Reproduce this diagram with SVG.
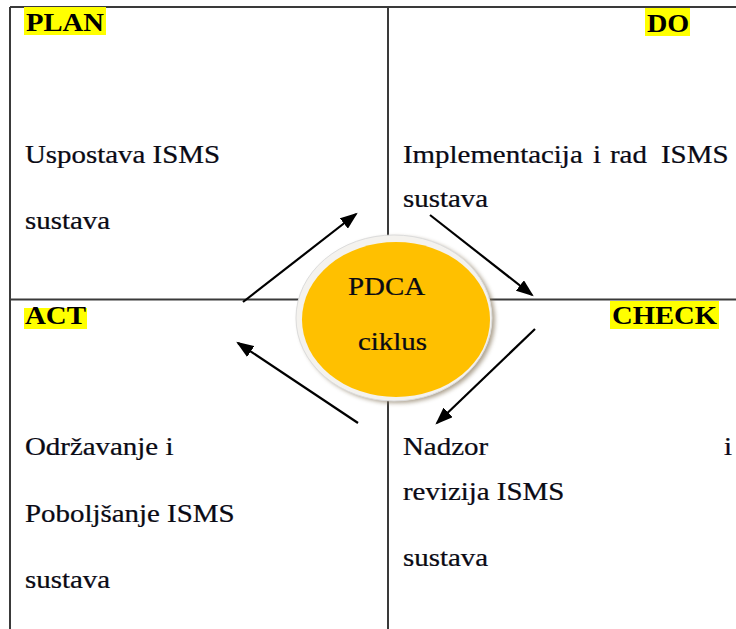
<svg xmlns="http://www.w3.org/2000/svg" width="736" height="629" viewBox="0 0 736 629">
<defs>
<style>
.t{font-family:"Liberation Serif","Times New Roman",serif;font-size:24.5px;fill:#0a0a14;stroke:#0a0a14;stroke-width:0.25}
.h{font-family:"Liberation Serif","Times New Roman",serif;font-size:24.5px;font-weight:bold;fill:#000}
.hl{fill:#ffff00}
.grid{stroke:#3a3a3a;stroke-width:2;fill:none}
.arr{stroke:#000;stroke-width:2.2;fill:none;marker-end:url(#ah)}
</style>
<marker id="ah" markerWidth="8" markerHeight="6" refX="7" refY="3" orient="auto" markerUnits="strokeWidth">
<path d="M0,0 L8,3 L0,6 Z" fill="#000"/>
</marker>
<filter id="blur" x="-10%" y="-10%" width="120%" height="120%"><feGaussianBlur stdDeviation="2"/></filter>
</defs>
<rect width="736" height="629" fill="#fff"/>
<g id="grid">
<line class="grid" x1="10" y1="7" x2="736" y2="7"/>
<line class="grid" x1="10" y1="7" x2="10" y2="629"/>
<line class="grid" x1="388" y1="7" x2="388" y2="629"/>
<line class="grid" x1="10" y1="299.5" x2="736" y2="299.5"/>
</g>
<g id="plan">
<rect class="hl" x="24" y="7" width="82" height="28"/>
<text class="h" transform="translate(26 31) scale(1.17 1)">PLAN</text>
<text class="t" transform="translate(25 163) scale(1.18 1)">Uspostava ISMS</text>
<text class="t" transform="translate(25 229) scale(1.18 1)">sustava</text>
</g>
<g id="do">
<rect class="hl" x="645" y="8" width="45" height="28"/>
<text class="h" transform="translate(647 32) scale(1.15 1)">DO</text>
<text class="t" transform="translate(403 163) scale(1.18 1)">Implementacija</text>
<text class="t" transform="translate(593 163) scale(1.18 1)">i</text>
<text class="t" transform="translate(610 163) scale(1.18 1)">rad</text>
<text class="t" transform="translate(661 163) scale(1.18 1)">ISMS</text>
<text class="t" transform="translate(403 207) scale(1.18 1)">sustava</text>
</g>
<g id="act">
<rect class="hl" x="24" y="308" width="63" height="21"/>
<text class="h" transform="translate(25 324) scale(1.18 1)">ACT</text>
<text class="t" transform="translate(25 455) scale(1.18 1)">Održavanje i</text>
<text class="t" transform="translate(25 522) scale(1.18 1)">Poboljšanje ISMS</text>
<text class="t" transform="translate(25 588) scale(1.18 1)">sustava</text>
</g>
<g id="check">
<rect class="hl" x="610" y="301" width="109" height="28"/>
<text class="h" transform="translate(612 324) scale(1.17 1)">CHECK</text>
<text class="t" transform="translate(403 455) scale(1.18 1)">Nadzor</text>
<text class="t" transform="translate(724 455) scale(1.18 1)">i</text>
<text class="t" transform="translate(403 500) scale(1.18 1)">revizija ISMS</text>
<text class="t" transform="translate(403 566) scale(1.18 1)">sustava</text>
</g>
<g id="connectors">
<line class="arr" x1="243" y1="302" x2="356" y2="214"/>
<line class="arr" x1="430" y1="215" x2="532" y2="295"/>
<line class="arr" x1="535" y1="329" x2="437" y2="423"/>
<line class="arr" x1="358" y1="423" x2="238" y2="343"/>
</g>
<g id="pdca">
<ellipse cx="397" cy="320" rx="98" ry="83" fill="#8a7a60" opacity="0.7" filter="url(#blur)"/>
<ellipse cx="394" cy="318" rx="98" ry="83" fill="#f4f2ee" stroke="#dcdcdc" stroke-width="1"/>
<ellipse cx="396" cy="319.5" rx="94" ry="77.5" fill="#ffc000"/>
<text class="t" transform="translate(348 295) scale(1.18 1)">PDCA</text>
<text class="t" transform="translate(358 350) scale(1.18 1)">ciklus</text>
</g>
</svg>
